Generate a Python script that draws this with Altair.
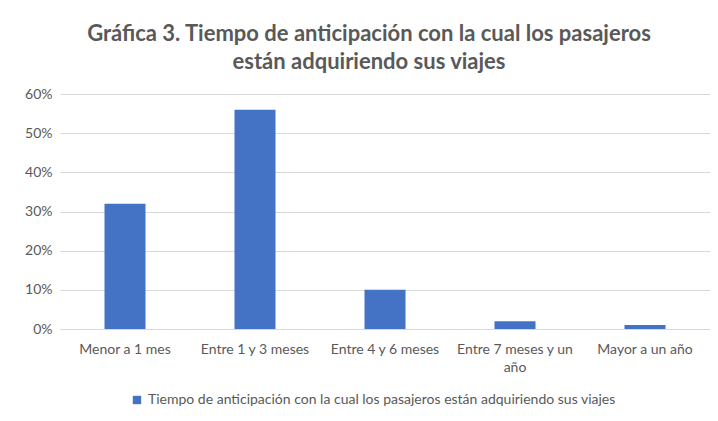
import altair as alt
import pandas as pd

categories = ["Menor a 1 mes", "Entre 1 y 3 meses", "Entre 4 y 6 meses",
              "Entre 7 meses y un año", "Mayor a un año"]
values = [0.32, 0.56, 0.10, 0.02, 0.01]
series_name = "Tiempo de anticipación con la cual los pasajeros están adquiriendo sus viajes"
y_ticks = [0, 0.1, 0.2, 0.3, 0.4, 0.5, 0.6]

df = pd.DataFrame({"cat": categories, "val": values, "serie": [series_name] * len(categories)})

FONT = "Lato"
GRAY = "#595959"

chart = alt.Chart(df).mark_bar(size=41).encode(
    x=alt.X("cat:N", sort=categories, title=None,
            scale=alt.Scale(paddingInner=0, paddingOuter=0),
            axis=alt.Axis(labelAngle=0, ticks=False, domain=True, domainColor="#d9d9d9",
                          labelColor=GRAY, labelFont=FONT, labelFontSize=14, labelPadding=13,
                          labelLimit=150, labelLineHeight=18,
                          labelExpr="datum.label == 'Entre 7 meses y un año' ? ['Entre 7 meses y un', 'año'] : datum.label")),
    y=alt.Y("val:Q", title=None, scale=alt.Scale(domain=[0, 0.6], nice=False),
            axis=alt.Axis(values=y_ticks, format=".0%", ticks=False, domain=False,
                          gridColor="#d9d9d9", labelColor=GRAY, labelFont=FONT,
                          labelFontSize=14, labelPadding=8)),
    color=alt.Color("serie:N", scale=alt.Scale(range=["#4472C4"]), title=None,
                    legend=alt.Legend(orient="none", legendX=70, legendY=299,
                                      symbolType="square", symbolSize=70,
                                      labelFont=FONT, labelFontSize=14, labelColor=GRAY,
                                      labelLimit=600)),
).properties(
    width=650, height=235,
    autosize=alt.AutoSizeParams(type="none"),
    padding={"left": 52, "top": 86, "right": 0, "bottom": 84},
    title=alt.Title(["Gráfica 3. Tiempo de anticipación con la cual los pasajeros",
                     "están adquiriendo sus viajes"],
                    font=FONT, fontSize=22, fontWeight="bold", color=GRAY,
                    lineHeight=28, anchor="middle", dx=-16, offset=13),
).configure_view(stroke=None)

chart.save("out.html", embed_options={"renderer": "svg", "actions": False})
